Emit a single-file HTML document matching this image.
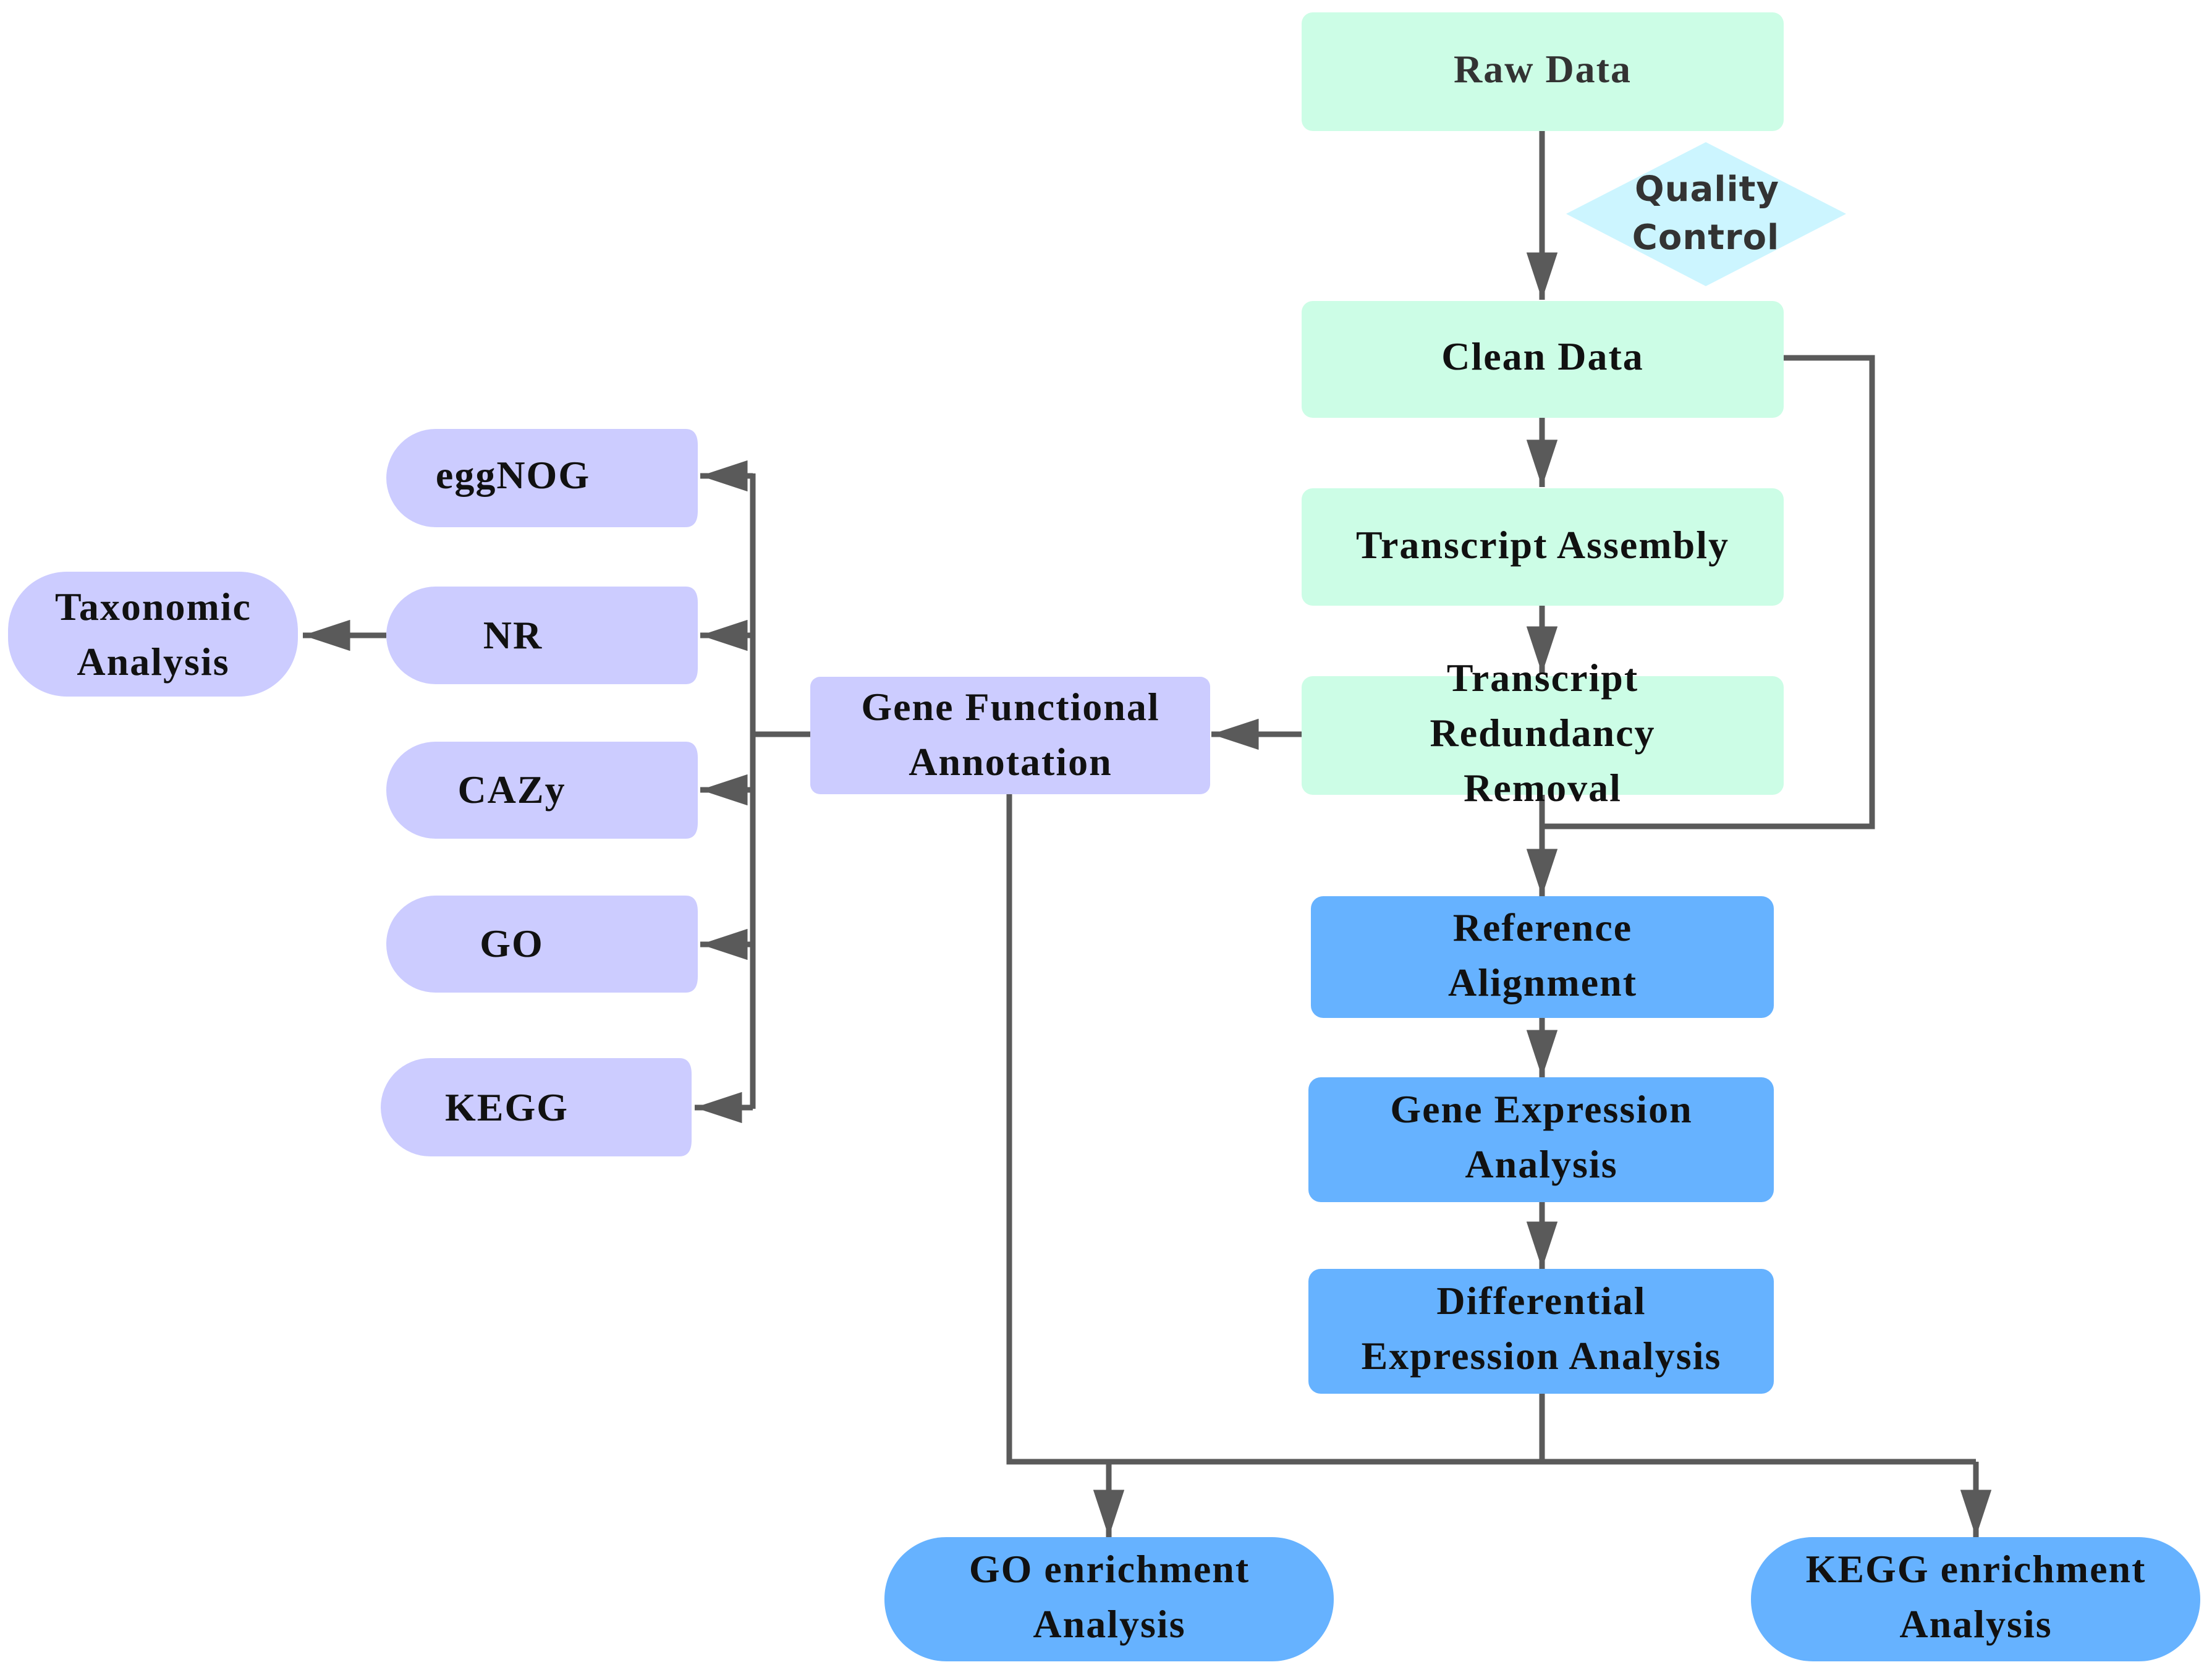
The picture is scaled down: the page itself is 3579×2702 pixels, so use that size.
<!DOCTYPE html>
<html><head><meta charset="utf-8"><style>
html,body{margin:0;padding:0;background:#fff;}
svg{display:block}
text{font-family:"Liberation Serif",serif;font-weight:bold;font-size:64px;fill:#111;text-anchor:middle;letter-spacing:2px}
.qc{font-family:"DejaVu Sans","Liberation Sans",sans-serif;font-size:56px;fill:#333;letter-spacing:1px}
</style></head><body>
<svg width="3579" height="2702" viewBox="0 0 3579 2702" xmlns="http://www.w3.org/2000/svg">
<defs>
<marker id="a" viewBox="0 0 10 10" preserveAspectRatio="none" refX="10" refY="5" markerWidth="8.5" markerHeight="5.6" markerUnits="strokeWidth" orient="auto"><path d="M0,0L10,5L0,10z" fill="#5a5a5a"/></marker>
</defs>
<g stroke="#5a5a5a" stroke-width="9" fill="none">
<line x1="2495" y1="212" x2="2495" y2="485" marker-end="url(#a)"/>
<line x1="2495" y1="676" x2="2495" y2="788" marker-end="url(#a)"/>
<line x1="2495" y1="980" x2="2495" y2="1090" marker-end="url(#a)"/>
<polyline points="2886,579 3029,579 3029,1337 2495,1337"/>
<line x1="2495" y1="1286" x2="2495" y2="1450" marker-end="url(#a)"/>
<line x1="2495" y1="1647" x2="2495" y2="1743" marker-end="url(#a)"/>
<line x1="2495" y1="1945" x2="2495" y2="2053" marker-end="url(#a)"/>
<line x1="2495" y1="2255" x2="2495" y2="2368"/>
<line x1="2106" y1="1188" x2="1960" y2="1188" marker-end="url(#a)"/>
<polyline points="1633,1285 1633,2365 3197,2365"/>
<line x1="1794" y1="2365" x2="1794" y2="2487" marker-end="url(#a)"/>
<line x1="3197" y1="2365" x2="3197" y2="2487" marker-end="url(#a)"/>
<line x1="1311" y1="1188" x2="1218" y2="1188"/>
<line x1="1218" y1="766" x2="1218" y2="1794"/>
<line x1="1218" y1="770" x2="1133" y2="770" marker-end="url(#a)"/>
<line x1="1218" y1="1028" x2="1133" y2="1028" marker-end="url(#a)"/>
<line x1="1218" y1="1278" x2="1133" y2="1278" marker-end="url(#a)"/>
<line x1="1218" y1="1528" x2="1133" y2="1528" marker-end="url(#a)"/>
<line x1="1218" y1="1792" x2="1124" y2="1792" marker-end="url(#a)"/>
<line x1="625" y1="1028" x2="490" y2="1028" marker-end="url(#a)"/>
</g>
<g fill="#ccfde6">
<rect x="2106" y="20" width="780" height="192" rx="18"/>
<rect x="2106" y="487" width="780" height="189" rx="18"/>
<rect x="2106" y="790" width="780" height="190" rx="18"/>
<rect x="2106" y="1094" width="780" height="192" rx="18"/>
</g>
<polygon points="2534,346 2760,230 2987,346 2760,463" fill="#ccf5ff"/>
<g fill="#66b2ff">
<rect x="2121" y="1450" width="749" height="197" rx="20"/>
<rect x="2117" y="1743" width="753" height="202" rx="20"/>
<rect x="2117" y="2053" width="753" height="202" rx="20"/>
<rect x="1431" y="2487" width="727" height="201" rx="100"/>
<rect x="2833" y="2487" width="727" height="201" rx="100"/>
</g>
<g fill="#ccccff">
<rect x="1311" y="1095" width="647" height="190" rx="16"/>
<rect x="13" y="925" width="469" height="202" rx="95"/>
<path d="M705,694 H1109 Q1129,694 1129,720 V827 Q1129,853 1109,853 H705 A80,80 0 0 1 625,773 A80,80 0 0 1 705,694Z"/>
<path d="M705,949 H1109 Q1129,949 1129,975 V1081 Q1129,1107 1109,1107 H705 A80,79 0 0 1 625,1028 A80,79 0 0 1 705,949Z"/>
<path d="M705,1200 H1109 Q1129,1200 1129,1226 V1331 Q1129,1357 1109,1357 H705 A80,78 0 0 1 625,1278 A80,78 0 0 1 705,1200Z"/>
<path d="M705,1449 H1109 Q1129,1449 1129,1475 V1580 Q1129,1606 1109,1606 H705 A80,78 0 0 1 625,1528 A80,78 0 0 1 705,1449Z"/>
<path d="M696,1712 H1099 Q1119,1712 1119,1738 V1845 Q1119,1871 1099,1871 H696 A80,80 0 0 1 616,1792 A80,80 0 0 1 696,1712Z"/>
</g>
<text x="2496" y="133" style="fill:#333">Raw Data</text>
<text class="qc" x="2762" y="325">Quality</text>
<text class="qc" x="2760" y="403">Control</text>
<text x="2496" y="598">Clean Data</text>
<text x="2496" y="903">Transcript Assembly</text>
<text x="2496" y="1118">Transcript</text>
<text x="2496" y="1207">Redundancy</text>
<text x="2496" y="1296">Removal</text>
<text x="2496" y="1522">Reference</text>
<text x="2496" y="1611">Alignment</text>
<text x="2494" y="1816">Gene Expression</text>
<text x="2494" y="1905">Analysis</text>
<text x="2494" y="2126">Differential</text>
<text x="2494" y="2215">Expression Analysis</text>
<text x="1795" y="2560">GO enrichment</text>
<text x="1795" y="2649">Analysis</text>
<text x="3197" y="2560">KEGG enrichment</text>
<text x="3197" y="2649">Analysis</text>
<text x="1635" y="1165">Gene Functional</text>
<text x="1635" y="1254">Annotation</text>
<text x="248" y="1003">Taxonomic</text>
<text x="248" y="1092">Analysis</text>
<text x="830" y="790">eggNOG</text>
<text x="830" y="1049">NR</text>
<text x="828" y="1299">CAZy</text>
<text x="828" y="1548">GO</text>
<text x="820" y="1813">KEGG</text>
</svg>
</body></html>
